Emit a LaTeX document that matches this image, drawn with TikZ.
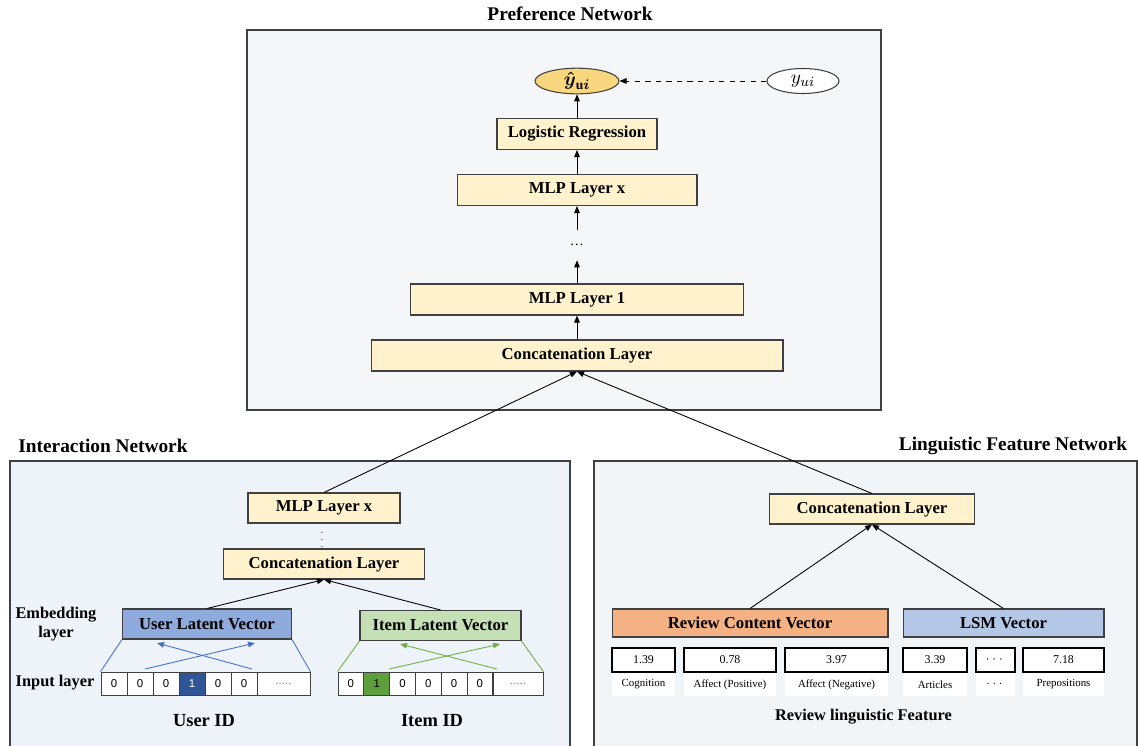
\documentclass[tikz,border=0pt]{standalone}
\usepackage{amsmath,amssymb}
\usepackage{fontspec}
\setmainfont{Liberation Serif}
\newfontfamily\cellfont{Liberation Sans}
\usepackage{tikz}
\usetikzlibrary{arrows,arrows.meta,calc,positioning,shapes.geometric}

\definecolor{prefbg}{HTML}{F4F6F8}
\definecolor{interbg}{HTML}{EEF3F9}
\definecolor{lingbg}{HTML}{F2F5F7}
\definecolor{framegray}{HTML}{404040}
\definecolor{layerfill}{HTML}{FFF2CC}
\definecolor{predfill}{HTML}{F9D77E}
\definecolor{userfill}{HTML}{8FAADC}
\definecolor{itemfill}{HTML}{C5E0B4}
\definecolor{reviewfill}{HTML}{F4B183}
\definecolor{lsmfill}{HTML}{B4C7E7}
\definecolor{userline}{HTML}{4472C4}
\definecolor{itemline}{HTML}{70AD47}
\definecolor{usercell}{HTML}{2F5597}
\definecolor{itemcell}{HTML}{5E9E3C}

\tikzset{
  netframe/.style={draw=framegray, line width=0.7pt},
  nettitle/.style={font=\bfseries\fontsize{11}{13}\selectfont},
  layer/.style={draw=framegray, fill=layerfill, line width=0.6pt, minimum height=0.62cm, inner sep=0pt, font=\bfseries\fontsize{9.5}{11}\selectfont},
  latent/.style={layer, minimum height=0.6cm},
  onehot/.style={draw=framegray, fill=white, line width=0.5pt, minimum height=0.46cm, inner sep=0pt, font=\cellfont\fontsize{6.5}{8}\selectfont},
  featval/.style={draw=black, fill=white, line width=0.6pt, minimum height=0.48cm, inner sep=0pt, font=\fontsize{6.8}{8}\selectfont},
  featname/.style={fill=white, minimum height=0.46cm, inner sep=0pt, font=\fontsize{6.2}{7}\selectfont},
  sidelabel/.style={font=\bfseries\fontsize{9.3}{11}\selectfont, align=center},
  flow/.style={-{Triangle[length=4pt,width=3.2pt]}, line width=0.5pt},
  target/.style={ellipse, draw=framegray, line width=0.6pt, minimum height=0.5cm, inner sep=0pt, font=\fontsize{11}{12}\selectfont},
}

\begin{document}
\begin{tikzpicture}[x=0.02cm, y=-0.02cm]
\useasboundingbox (0,0) rectangle (1138,745);

% preference network
\draw[netframe, fill=prefbg] (247,30) rectangle (881,410);
\node[nettitle] (preftitle) at (570,14) {Preference Network};
\node[target, fill=predfill, minimum width=1.68cm] (yhat) at (577,81) {$\boldsymbol{\hat{y}}_{\mathbf{u}\boldsymbol{i}}$};
\node[target, fill=white, minimum width=1.44cm] (yui) at (803,81) {$y_{ui}$};
\node[layer, minimum width=3.2cm] (lr) at (577,134) {Logistic Regression};
\node[layer, minimum width=4.8cm] (pmlpx) at (577,190) {MLP Layer x};
\node[minimum height=0.6cm, inner sep=0pt, font=\fontsize{8}{8}\selectfont] (pdots) at (577,245) {\dots};
\node[layer, minimum width=6.66cm] (pmlp1) at (577,299.5) {MLP Layer 1};
\node[layer, minimum width=8.24cm] (pconcat) at (577,355.5) {Concatenation Layer};
\draw[flow] (lr.north) -- (yhat.south);
\draw[flow] (pmlpx.north) -- (lr.south);
\draw[flow] (pdots.north) -- (pmlpx.south);
\draw[flow] (pmlp1.north) -- (pdots.south);
\draw[flow] (pconcat.north) -- (pmlp1.south);
\draw[flow, dashed] (yui.west) -- (yhat.east);

% interaction network
\draw[netframe, fill=interbg] (10,461) rectangle (570,750);
\node[nettitle] (intertitle) at (103,446) {Interaction Network};
\node[layer, minimum width=3.04cm, minimum height=0.6cm] (imlp) at (324,508) {MLP Layer x};
\node[inner sep=0pt, font=\fontsize{5}{5}\selectfont] (idots) at (322,535) {$\vdots$};
\node[layer, minimum width=4.02cm, minimum height=0.6cm] (iconcat) at (324,564) {Concatenation Layer};
\node[latent, fill=userfill, minimum width=3.38cm] (ulat) at (207,624) {User Latent Vector};
\node[latent, fill=itemfill, minimum width=3.22cm] (ilat) at (440.5,625.5) {Item Latent Vector};
\node[sidelabel] (emblabel) at (56,624) {Embedding\\layer};
\node[sidelabel] (inlabel) at (55,683) {Input layer};

\foreach \v/\c/\t [count=\i] in {0/white/black,0/white/black,0/white/black,1/usercell/white,0/white/black,0/white/black}
  \node[onehot, fill=\c, text=\t, minimum width=0.52cm] (u\i) at ({88+26*\i},683.5) {\v};
\node[onehot, minimum width=1.06cm] (u7) at (283.5,683.5) {\textcolor{gray}{.....}};
\foreach \v/\c/\t [count=\i] in {0/white/black,1/itemcell/black,0/white/black,0/white/black,0/white/black,0/white/black}
  \node[onehot, fill=\c, text=\t, minimum width=0.516cm] (it\i) at ({325.1+25.8*\i},683.5) {\v};
\node[onehot, minimum width=1.0cm] (it7) at (518,683.5) {\textcolor{gray}{.....}};

\coordinate (ufromA) at (145,669);
\coordinate (utoA) at (255,643);
\coordinate (ufromB) at (252,669);
\coordinate (utoB) at (157,643);
\coordinate (ifromA) at (389,669);
\coordinate (itoA) at (500,644);
\coordinate (ifromB) at (497,669);
\coordinate (itoB) at (400,644);
\draw[userline, line width=0.5pt] (u1.north west) -- (ulat.south west);
\draw[userline, line width=0.5pt] (u7.north east) -- (ulat.south east);
\draw[userline, flow] (ufromA) -- (utoA);
\draw[userline, flow] (ufromB) -- (utoB);
\draw[itemline, line width=0.5pt] (it1.north west) -- (ilat.south west);
\draw[itemline, line width=0.5pt] (it7.north east) -- (ilat.south east);
\draw[itemline, flow] (ifromA) -- (itoA);
\draw[itemline, flow] (ifromB) -- (itoB);

\node[font=\bfseries\fontsize{10.5}{12}\selectfont] (userid) at (204,721) {User ID};
\node[font=\bfseries\fontsize{10.5}{12}\selectfont] (itemid) at (432,721) {Item ID};

\draw[flow] (ulat.north) -- (iconcat.south);
\draw[flow] (ilat.north) -- (iconcat.south);

% linguistic feature network
\draw[netframe, fill=lingbg] (594,461) rectangle (1137,750);
\node[nettitle] (lingtitle) at (1013,446) {Linguistic Feature Network};
\node[layer, minimum width=4.1cm, minimum height=0.6cm] (lconcat) at (872,509) {Concatenation Layer};
\node[latent, fill=reviewfill, minimum width=5.52cm, minimum height=0.56cm] (rcv) at (750,623) {Review Content Vector};
\node[latent, fill=lsmfill, minimum width=4.02cm, minimum height=0.56cm] (lsm) at (1003.5,623) {LSM Vector};
\foreach \c/\w/\v/\t [count=\i] in {643.5/63/1.39/Cognition, 730/92/0.78/{Affect (Positive)}, 836.5/103/3.97/{Affect (Negative)}, 935/64/3.39/Articles, 995.5/39/$\cdots$/$\cdots$, 1063.5/81/7.18/Prepositions}{
  \node[featval, minimum width=\w*0.02cm] (fv\i) at (\c,660) {\v};
  \node[featname, minimum width=\w*0.02cm, below=0pt of fv\i] (fn\i) {\t};
}
\node[font=\bfseries\fontsize{9.3}{11}\selectfont] (reviewfeat) at (863.5,717) {Review linguistic Feature};
\draw[flow] (rcv.north) -- (lconcat.south);
\draw[flow] (lsm.north) -- (lconcat.south);

% links to preference network
\draw[flow] (imlp.north) -- (pconcat.south);
\draw[flow] (lconcat.north) -- (pconcat.south);

\end{tikzpicture}
\end{document}
